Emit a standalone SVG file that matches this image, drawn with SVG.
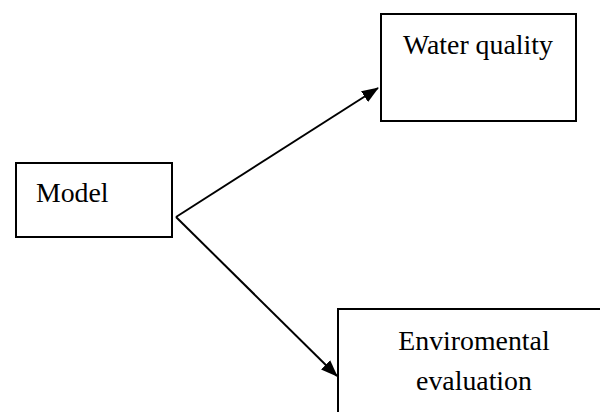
<svg xmlns="http://www.w3.org/2000/svg" width="600" height="412" viewBox="0 0 600 412">
<style>
.box{fill:#fff;stroke:#000;stroke-width:2}
.lbl{font-family:"Liberation Serif","Times New Roman",serif;font-size:27.8px;fill:#000}
.edge{fill:none;stroke:#000;stroke-width:2}
</style>
<defs>
<marker id="ah" markerWidth="17" markerHeight="13" refX="16" refY="6.5" orient="auto" markerUnits="userSpaceOnUse">
<path d="M0,0 L17,6.5 L0,13 Z" fill="#000"/>
</marker>
</defs>
<rect width="600" height="412" fill="#fff"/>
<g id="connectors">
<path class="edge" d="M176,217 L378,88" marker-end="url(#ah)"/>
<path class="edge" d="M176,217 L337,376" marker-end="url(#ah)"/>
</g>
<g id="model">
<rect class="box" x="16" y="163" width="156" height="74"/>
<text class="lbl" x="36" y="202">Model</text>
</g>
<g id="water-quality">
<rect class="box" x="381" y="14" width="195" height="107"/>
<text class="lbl" x="403" y="54">Water quality</text>
</g>
<g id="environmental">
<rect class="box" x="338" y="309" width="272" height="110"/>
<text class="lbl" x="474" y="350" text-anchor="middle">Enviromental</text>
<text class="lbl" x="474" y="390" text-anchor="middle">evaluation</text>
</g>
</svg>
